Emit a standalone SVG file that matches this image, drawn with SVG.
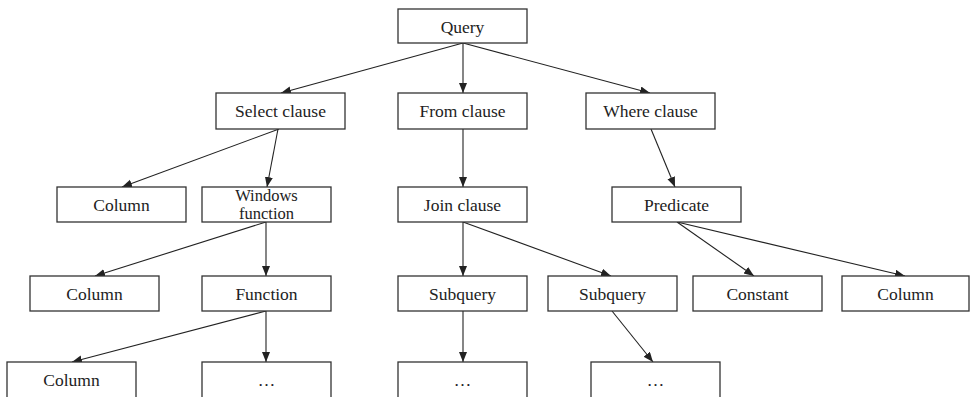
<svg xmlns="http://www.w3.org/2000/svg" width="971" height="397" viewBox="0 0 971 397">
<style>
rect{fill:#fff;stroke:#333;stroke-width:1.3}
text{font-family:"Liberation Serif","Times New Roman",Tinos,"DejaVu Serif",serif;font-size:17.5px;fill:#222;text-anchor:middle}
text.two{font-size:16.5px}
.c line{stroke:#222;stroke-width:1.1;marker-end:url(#ah)}
</style>
<defs>
<marker id="ah" markerUnits="userSpaceOnUse" markerWidth="11" markerHeight="9" refX="10" refY="4" orient="auto"><path d="M0,0 L10,4 L0,8 z" fill="#222"/></marker>
</defs>
<rect x="0" y="0" width="971" height="397" style="fill:#fff;stroke:none"/>
<g class="c" id="connectors">
<line x1="463" y1="43" x2="281" y2="93"/>
<line x1="463" y1="43" x2="463" y2="93"/>
<line x1="463" y1="43" x2="650" y2="93"/>
<line x1="279" y1="129" x2="122" y2="187"/>
<line x1="278" y1="129" x2="267" y2="187"/>
<line x1="266" y1="222" x2="95" y2="276"/>
<line x1="266" y1="222" x2="266" y2="276"/>
<line x1="266" y1="311" x2="72" y2="362"/>
<line x1="266" y1="311" x2="266" y2="362"/>
<line x1="463" y1="129" x2="463" y2="187"/>
<line x1="463" y1="222" x2="463" y2="276"/>
<line x1="463" y1="222" x2="611" y2="276"/>
<line x1="463" y1="311" x2="463" y2="362"/>
<line x1="612" y1="311" x2="653" y2="362"/>
<line x1="651" y1="129" x2="675" y2="187"/>
<line x1="677" y1="222" x2="754" y2="276"/>
<line x1="677" y1="222" x2="905" y2="276"/>
</g>
<g id="query"><rect x="398" y="9" width="129" height="34"/><text x="462.5" y="32.5">Query</text></g>
<g id="select"><rect x="216" y="93" width="129" height="36"/><text x="280.5" y="117">Select clause</text></g>
<g id="from"><rect x="398" y="93" width="129" height="36"/><text x="462.5" y="117">From clause</text></g>
<g id="where"><rect x="586" y="93" width="129" height="36"/><text x="650.5" y="117">Where clause</text></g>
<g id="column1"><rect x="57" y="187" width="129" height="35"/><text x="121.5" y="210.5">Column</text></g>
<g id="winfunc"><rect x="202" y="187" width="129" height="35"/><text class="two" x="266.5" y="200.5">Windows</text><text class="two" x="266.5" y="219">function</text></g>
<g id="join"><rect x="398" y="187" width="129" height="35"/><text x="462.5" y="210.5">Join clause</text></g>
<g id="predicate"><rect x="612" y="187" width="129" height="35"/><text x="676.5" y="210.5">Predicate</text></g>
<g id="column2"><rect x="30" y="276" width="129" height="35"/><text x="94.5" y="299.5">Column</text></g>
<g id="function"><rect x="202" y="276" width="129" height="35"/><text x="266.5" y="299.5">Function</text></g>
<g id="subquery1"><rect x="398" y="276" width="129" height="35"/><text x="462.5" y="299.5">Subquery</text></g>
<g id="subquery2"><rect x="548" y="276" width="129" height="35"/><text x="612.5" y="299.5">Subquery</text></g>
<g id="constant"><rect x="693" y="276" width="129" height="35"/><text x="757.5" y="299.5">Constant</text></g>
<g id="column3"><rect x="842" y="276" width="127" height="35"/><text x="905.5" y="299.5">Column</text></g>
<g id="column4"><rect x="7" y="362" width="129" height="40"/><text x="71.5" y="386">Column</text></g>
<g id="dots1"><rect x="202" y="362" width="129" height="40"/><text x="266.5" y="386">…</text></g>
<g id="dots2"><rect x="398" y="362" width="129" height="40"/><text x="462.5" y="386">…</text></g>
<g id="dots3"><rect x="591" y="362" width="129" height="40"/><text x="655.5" y="386">…</text></g>
</svg>
